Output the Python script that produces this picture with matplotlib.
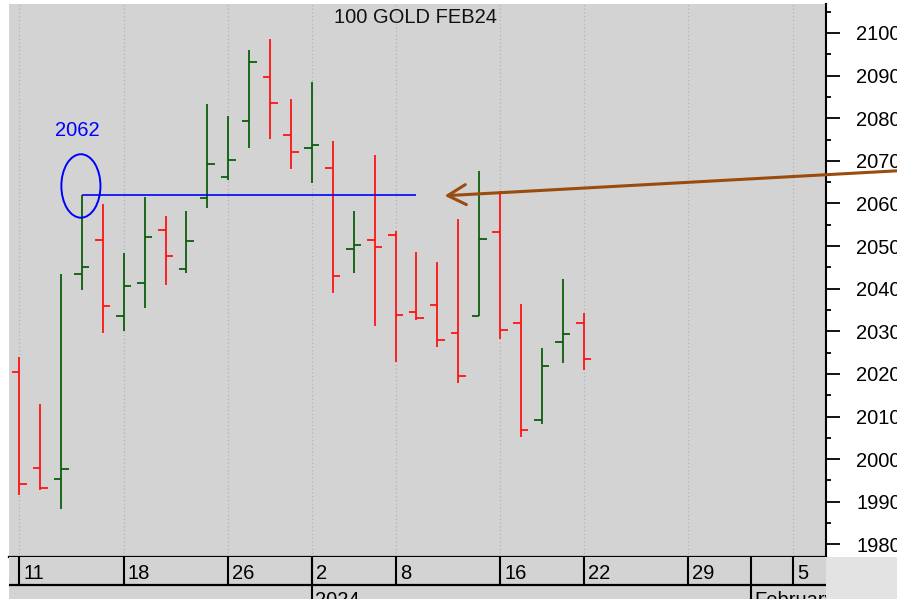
import matplotlib
matplotlib.use("Agg")
import matplotlib.pyplot as plt
from matplotlib.patches import Ellipse, Rectangle
from matplotlib.ticker import MultipleLocator, FixedLocator
import pandas as pd

plt.rcParams['font.family'] = ['Liberation Sans', 'DejaVu Sans']

# Daily OHLC for the Feb 2024 gold contract
bar_dates = ['2023-12-11', '2023-12-12', '2023-12-13', '2023-12-14', '2023-12-15',
             '2023-12-18', '2023-12-19', '2023-12-20', '2023-12-21', '2023-12-22',
             '2023-12-26', '2023-12-27', '2023-12-28', '2023-12-29',
             '2024-01-02', '2024-01-03', '2024-01-04', '2024-01-05',
             '2024-01-08', '2024-01-09', '2024-01-10', '2024-01-11', '2024-01-12',
             '2024-01-16', '2024-01-17', '2024-01-18', '2024-01-19', '2024-01-22']
opens = [2020.4, 1998.0, 1995.3, 2043.4, 2051.4, 2033.6, 2041.4, 2053.8, 2044.6, 2061.3,
         2066.1, 2079.3, 2089.6, 2076.1, 2072.9, 2068.2, 2049.4, 2051.4, 2052.6, 2034.6,
         2036.2, 2029.5, 2033.5, 2053.4, 2031.9, 2009.2, 2027.5, 2031.9]
highs = [2024.0, 2012.9, 2043.4, 2062.0, 2059.9, 2048.3, 2061.4, 2057.1, 2058.2, 2083.3,
         2080.5, 2096.0, 2098.5, 2084.5, 2088.4, 2074.6, 2058.3, 2071.4, 2053.5, 2048.7,
         2046.3, 2056.3, 2067.5, 2063.0, 2036.3, 2026.0, 2042.3, 2034.4]
lows = [1991.6, 1992.7, 1988.3, 2039.7, 2029.7, 2030.1, 2035.4, 2040.9, 2043.7, 2058.9,
        2065.5, 2073.1, 2075.1, 2068.0, 2064.7, 2038.9, 2043.6, 2031.3, 2022.9, 2032.6,
        2026.2, 2017.8, 2033.5, 2028.2, 2005.1, 2008.2, 2022.6, 2020.9]
closes = [1994.1, 1993.2, 1997.6, 2045.0, 2035.9, 2040.6, 2052.2, 2047.7, 2051.3, 2069.3,
          2070.1, 2093.2, 2083.6, 2072.1, 2073.6, 2043.0, 2050.2, 2049.8, 2033.8, 2033.1,
          2028.0, 2019.6, 2051.7, 2030.3, 2006.8, 2021.9, 2029.4, 2023.5]

# Trading calendar (exchange holidays removed)
holidays = ['2023-12-25', '2024-01-01', '2024-01-15']
date_tick_days = ['2023-12-11', '2023-12-18', '2023-12-26', '2024-01-02', '2024-01-08',
                  '2024-01-16', '2024-01-22', '2024-01-29', '2024-02-05']
date_tick_labels = ['11', '18', '26', '2', '8', '16', '22', '29', '5']
period_days = ['2024-01-02', '2024-02-01']
period_labels = ['2024', 'February']

y_major = list(range(1980, 2101, 10))
level_value = 2062
title = '100 GOLD FEB24'

sessions = pd.bdate_range('2023-12-11', '2024-02-09')
sessions = sessions[~sessions.isin(pd.to_datetime(holidays))]
pos = {d: i for i, d in enumerate(sessions)}


def idx(d):
    return pos[pd.Timestamp(d)]


W, H = 897, 599
fig = plt.figure(figsize=(W / 100, H / 100), dpi=100, facecolor='white')

ax_l, ax_r, ax_t, ax_b = 9, 825.7, 4, 556.7
ax = fig.add_axes([ax_l / W, (H - ax_b) / H, (ax_r - ax_l) / W, (ax_b - ax_t) / H])
ax.set_facecolor('#d3d3d3')
x_lo, x_hi = -0.49, 38.58
ax.set_xlim(x_lo, x_hi)
ax.set_ylim(1977.1, 2106.8)

for s in ('top', 'left'):
    ax.spines[s].set_visible(False)
ax.spines['right'].set_linewidth(1.5)
ax.spines['bottom'].set_linewidth(1.6)
ax.set_xticks([])

ax.yaxis.tick_right()
ax.yaxis.set_major_locator(FixedLocator(y_major))
ax.yaxis.set_minor_locator(MultipleLocator(5))
ax.tick_params(axis='y', which='major', direction='out', length=9.8, width=1.3,
               pad=12.3, labelsize=14.5, colors='black')
ax.tick_params(axis='y', which='minor', direction='out', length=3.6, width=1.3)

# dotted vertical grid at the date ticks
tick_x = [idx(d) for d in date_tick_days]
ax.vlines(tick_x, 1977.1, 2106.8, colors='#b4b4b4', linestyles=(0, (1, 2)),
          linewidth=0.9, zorder=1)

# OHLC bars
xs = [idx(d) for d in bar_dates]
tw = 0.36
for x, o, h, l, c in zip(xs, opens, highs, lows, closes):
    col = '#0b5e0b' if c >= o else '#ff1414'
    ax.vlines(x, l, h, colors=col, linewidth=1.3, zorder=3)
    ax.hlines(o, x - tw, x, colors=col, linewidth=1.3, zorder=3)
    ax.hlines(c, x, x + tw, colors=col, linewidth=1.3, zorder=3)

# level marker at the Dec 14 high
start = idx('2023-12-14')
ax.hlines(level_value, start, idx('2024-01-09'), colors='#0000ff', linewidth=1.2, zorder=4)
ax.add_patch(Ellipse((start - 0.05, 2064.1), width=1.87, height=14.9, fill=False,
                     edgecolor='#0000ff', linewidth=1.4, zorder=4))
ax.text(start - 0.2, 2075.8, str(level_value), color='#0000ff', fontsize=14.5,
        ha='center', va='baseline')

ax.annotate('', xy=(20.35, 2061.8), xytext=(44.0, 2068.2),
            arrowprops=dict(arrowstyle='->,head_length=1.3,head_width=0.72',
                            color='#9a4b0e', lw=2.2, mutation_scale=10,
                            shrinkA=0, shrinkB=0),
            annotation_clip=False, zorder=6)

ax.text((415.3 - ax_l) / (ax_r - ax_l), (ax_b - 22.7) / (ax_b - ax_t), title,
        transform=ax.transAxes, ha='center', va='baseline', fontsize=14.5, color='#111111')

# date band under the chart
band_h = H - ax_b
bax = fig.add_axes([ax_l / W, 0, (ax_r - ax_l) / W, band_h / H])
bax.set_facecolor('#d3d3d3')
bax.set_xlim(x_lo, x_hi)
bax.set_ylim(0, band_h)
bax.axis('off')
bax.add_patch(Rectangle((0, 0), 1, 1, transform=bax.transAxes, facecolor='#d3d3d3',
                        edgecolor='none', zorder=0))
row_y = H - 585
bax.axhline(row_y, color='black', lw=1.6)
for x, lab in zip(tick_x, date_tick_labels):
    bax.vlines(x, row_y, band_h, colors='black', linewidth=1.5)
    bax.annotate(lab, (x, 19.7), xytext=(3, 0), textcoords='offset points',
                 fontsize=14.5, ha='left', va='baseline', annotation_clip=True,
                 clip_on=True)
for d, lab in zip(period_days, period_labels):
    x = idx(d)
    bax.vlines(x, 0, band_h, colors='black', linewidth=1.5)
    t = bax.annotate(lab, (x, -7.0), xytext=(2.5, 0), textcoords='offset points',
                     fontsize=14.5, ha='left', va='baseline', annotation_clip=False)
    t.set_clip_on(True)
    t.set_clip_box(bax.bbox)

# panel under the price scale
fig.patches.append(Rectangle((ax_r / W, 0), 1 - ax_r / W, band_h / H,
                             transform=fig.transFigure, facecolor='#e3e3e3',
                             edgecolor='none', zorder=0))

fig.savefig('out.png', dpi=100)
